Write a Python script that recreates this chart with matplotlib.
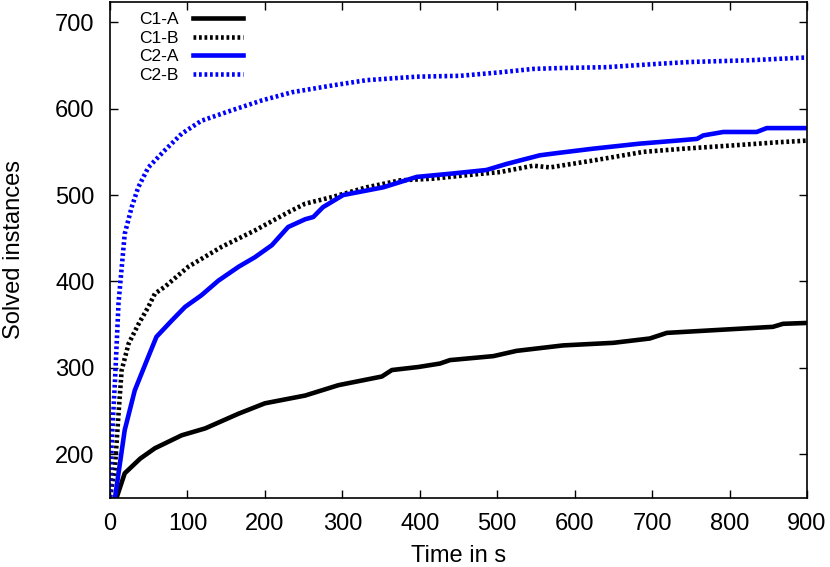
import matplotlib
matplotlib.use("Agg")
import matplotlib.pyplot as plt

plt.rcParams['font.family'] = ['Liberation Sans', 'DejaVu Sans']

# cumulative solved instances
c1a_t = [8.6, 19, 39, 58, 92.6, 123, 166, 200, 252, 295, 351, 364, 398, 426, 439,
         495, 525, 585, 650, 697, 719, 779, 856, 869, 900]
c1a_n = [150, 178, 195, 207, 222, 230, 247, 259, 268, 280, 290, 297.5, 301, 305, 309,
         313.6, 319.7, 326, 329, 334, 340.5, 343.6, 347.5, 351, 352]

c1b_t = [0, 6.5, 11, 15, 24, 37, 49.5, 58, 71, 101, 144, 187, 230, 252, 288, 331.5,
         374.5, 417.5, 460.6, 503.6, 546.6, 568, 624, 689, 740, 805, 861, 900]
c1b_n = [150, 185.6, 247, 297, 328, 351, 370.6, 386, 394, 417, 440, 459, 480, 490, 498,
         509, 517, 519, 523, 526.6, 534, 532, 540, 550, 553.6, 557.5, 561, 563]

c2a_t = [6.5, 19, 32, 49.5, 60, 80, 97, 118, 140, 166, 187, 209, 230, 252, 262.5, 275,
         301, 353, 396, 443, 486, 512, 555, 581, 624, 684, 732, 758, 766, 792, 835, 848, 900]
c2a_n = [150, 228, 274, 313, 336, 355, 370.6, 384, 401, 417, 428, 442, 463, 472, 474.6, 486,
         500, 509, 521, 525, 529, 536, 546, 549, 553.7, 559.5, 563, 565, 569, 573, 573, 577.5, 577.5]

c2b_t = [0, 2, 6.5, 11, 19, 28, 36.5, 49.5, 71, 92.6, 118, 157, 196, 235, 288, 331.5,
         396, 452, 503.6, 546.6, 581, 641, 710, 749, 826, 895, 900]
c2b_n = [150, 209, 286, 375, 455, 486, 509, 532, 552, 571, 586, 598, 609.5, 619, 627, 633,
         637, 638, 642, 646, 647, 648, 652, 654, 656, 659, 659]

fig = plt.figure(figsize=(8.3, 5.67), dpi=100)
ax = fig.add_axes([110 / 830, 1 - 497.5 / 567, 697 / 830, 496 / 567])

lw = 3.3
dot = (0, (0.6, 0.6))
ax.plot(c1a_t, c1a_n, color='black', lw=lw, label='C1-A')
ax.plot(c1b_t, c1b_n, color='black', lw=lw, ls=dot, label='C1-B')
ax.plot(c2a_t, c2a_n, color='#0000ff', lw=lw, label='C2-A')
ax.plot(c2b_t, c2b_n, color='#0000ff', lw=lw, ls=dot, label='C2-B')

ax.set_xlim(0, 900)
ax.set_ylim(150, 724)
ax.set_xticks(range(0, 901, 100))
ax.set_yticks(range(200, 701, 100))
ax.tick_params(direction='in', top=True, right=True, length=6, width=1,
               labelsize=17, pad=11)
for s in ax.spines.values():
    s.set_linewidth(1.2)

ax.set_xlabel('Time in s', fontsize=17, labelpad=7)
ax.set_ylabel('Solved instances', fontsize=17, labelpad=22)

ax.legend(loc='upper left', bbox_to_anchor=(139 / 830, 1 - 12 / 567),
          bbox_transform=fig.transFigure, frameon=False, markerfirst=False,
          fontsize=12.5, handlelength=2.9, handletextpad=0.8, labelspacing=0.2,
          borderpad=0, borderaxespad=0)

fig.savefig('out.png', dpi=100)
